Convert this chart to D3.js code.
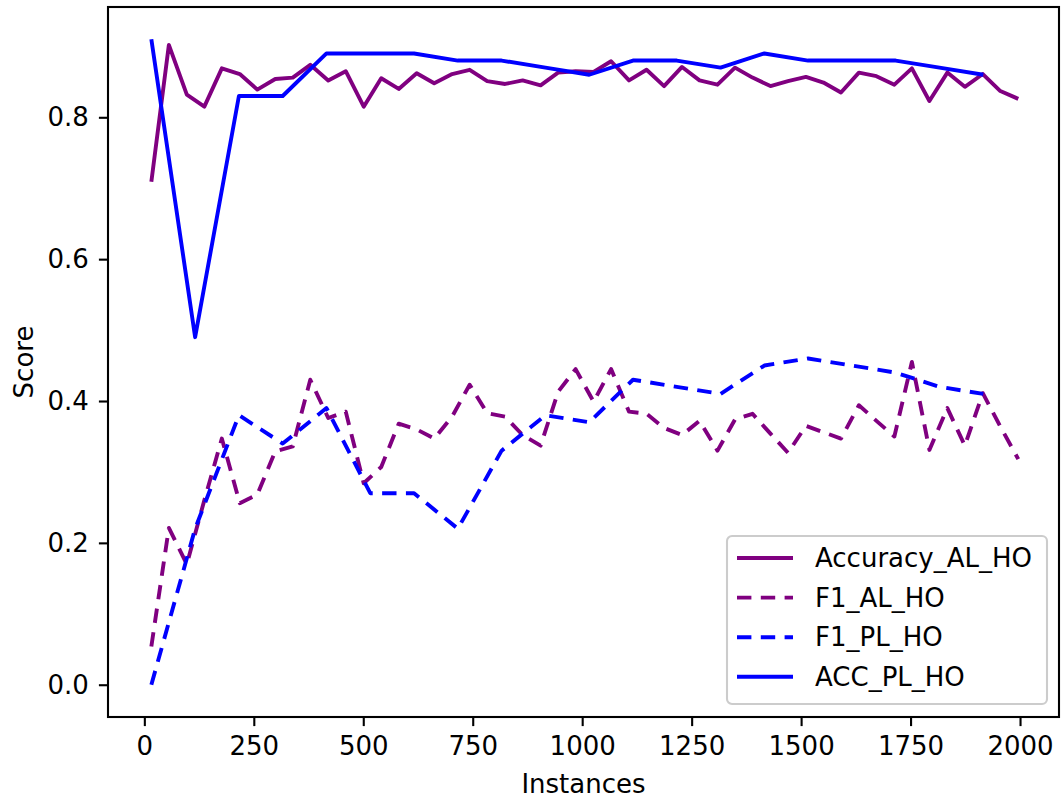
<!DOCTYPE html>
<html>
<head>
<meta charset="utf-8">
<script src="https://cdn.jsdelivr.net/npm/d3@7"></script>
<style>
  body { margin: 0; background: #fff; }
  text { font-family: 'DejaVu Sans', sans-serif; }
</style>
</head>
<body>
<div id="chart"></div>
<script>
// active learning runs (hold-out), one point every ~40 instances
const alInstances = [16, 56, 97, 137, 177, 218, 258, 299, 339, 379,
  420, 460, 501, 541, 581, 622, 662, 703, 743, 783,
  824, 864, 905, 945, 985, 1026, 1066, 1107, 1147, 1187,
  1228, 1268, 1309, 1349, 1389, 1430, 1470, 1511, 1551, 1591,
  1632, 1672, 1713, 1753, 1793, 1834, 1874, 1915, 1955, 1996]
const accuracyAL = [0.709, 0.902, 0.832, 0.815, 0.869, 0.861, 0.839, 0.854, 0.856, 0.874,
  0.852, 0.865, 0.815, 0.855, 0.840, 0.862, 0.848, 0.861, 0.867, 0.851,
  0.847, 0.852, 0.845, 0.863, 0.865, 0.864, 0.879, 0.852, 0.867, 0.844,
  0.871, 0.852, 0.846, 0.870, 0.856, 0.844, 0.851, 0.857, 0.849, 0.835,
  0.863, 0.858, 0.846, 0.869, 0.823, 0.863, 0.843, 0.861, 0.837, 0.826]
const f1AL = [0.054, 0.221, 0.170, 0.260, 0.347, 0.256, 0.268, 0.329, 0.336, 0.430,
  0.376, 0.385, 0.284, 0.307, 0.368, 0.360, 0.347, 0.378, 0.423, 0.383,
  0.378, 0.352, 0.337, 0.413, 0.445, 0.399, 0.445, 0.385, 0.382, 0.362,
  0.352, 0.372, 0.330, 0.374, 0.382, 0.354, 0.327, 0.365, 0.356, 0.347,
  0.394, 0.372, 0.350, 0.455, 0.331, 0.390, 0.337, 0.411, 0.364, 0.318]

// passive learning runs (hold-out), one point every 100 instances
const plInstances = [16, 116, 216, 316, 416, 516, 616, 716, 816, 916,
  1016, 1116, 1216, 1316, 1416, 1516, 1616, 1716, 1816, 1916]
const f1PL = [0.00, 0.22, 0.38, 0.34, 0.39, 0.27, 0.27, 0.22, 0.33, 0.38,
  0.37, 0.43, 0.42, 0.41, 0.45, 0.46, 0.45, 0.44, 0.42, 0.41]
const accPL = [0.91, 0.49, 0.83, 0.83, 0.89, 0.89, 0.89, 0.88, 0.88, 0.87,
  0.86, 0.88, 0.88, 0.87, 0.89, 0.88, 0.88, 0.88, 0.87, 0.86]

const xTicks = [0, 250, 500, 750, 1000, 1250, 1500, 1750, 2000]
const yTicks = [0.0, 0.2, 0.4, 0.6, 0.8]

const series = [
  { name: 'Accuracy_AL_HO', x: alInstances, y: accuracyAL, color: 'purple', dashed: false },
  { name: 'F1_AL_HO', x: alInstances, y: f1AL, color: 'purple', dashed: true },
  { name: 'F1_PL_HO', x: plInstances, y: f1PL, color: 'blue', dashed: true },
  { name: 'ACC_PL_HO', x: plInstances, y: accPL, color: 'blue', dashed: false }
]

const W = 1061
const H = 800
const margin = { top: 7, right: 2, bottom: 83, left: 108 }
const width = W - margin.left - margin.right
const height = H - margin.top - margin.bottom

// matplotlib-ish sizes at ~187 dpi
const fontSize = 26
const lineW = 3.9
const spineW = 2.1
const dash = '14.4,9.4'

const svg = d3.select('#chart').append('svg')
  .attr('width', W)
  .attr('height', H)

const g = svg.append('g')
  .attr('transform', `translate(${margin.left}, ${margin.top})`)

const xScale = d3.scaleLinear()
  .domain([-83, 2089])
  .range([0, width])

const yScale = d3.scaleLinear()
  .domain([-0.0455, 0.9555])
  .range([height, 0])

const xAxis = d3.axisBottom(xScale)
  .tickValues(xTicks)
  .tickFormat(d3.format('d'))
  .tickSize(9.1)
  .tickPadding(10)

const yAxis = d3.axisLeft(yScale)
  .tickValues(yTicks)
  .tickFormat(d3.format('.1f'))
  .tickSize(9.1)
  .tickPadding(10)

const gx = g.append('g')
  .attr('transform', `translate(0, ${height})`)
  .call(xAxis)

const gy = g.append('g')
  .call(yAxis)

for (const ax of [gx, gy]) {
  ax.select('.domain').remove()
  ax.selectAll('line').attr('stroke', '#000').attr('stroke-width', spineW)
  ax.selectAll('text')
    .attr('fill', '#000')
    .style('font-size', fontSize + 'px')
    .style('font-family', "'DejaVu Sans', sans-serif")
}

const line = s => d3.line()
  .x((d, i) => xScale(s.x[i]))
  .y(d => yScale(d))

g.selectAll('path.series')
  .data(series)
  .enter().append('path')
  .attr('class', 'series')
  .attr('d', s => line(s)(s.y))
  .attr('fill', 'none')
  .attr('stroke', s => s.color)
  .attr('stroke-width', lineW)
  .attr('stroke-linejoin', 'round')
  .attr('stroke-dasharray', s => s.dashed ? dash : null)

// frame
g.append('rect')
  .attr('width', width)
  .attr('height', height)
  .attr('fill', 'none')
  .attr('stroke', '#000')
  .attr('stroke-width', spineW)

// axis labels
svg.append('text')
  .attr('x', margin.left + width / 2)
  .attr('y', 793)
  .attr('text-anchor', 'middle')
  .style('font-size', fontSize + 'px')
  .text('Instances')

svg.append('text')
  .attr('transform', `translate(33, ${margin.top + height / 2}) rotate(-90)`)
  .attr('text-anchor', 'middle')
  .style('font-size', fontSize + 'px')
  .text('Score')

// legend
const legend = svg.append('g')
  .attr('transform', 'translate(727, 536)')

legend.append('rect')
  .attr('width', 320)
  .attr('height', 168)
  .attr('rx', 5)
  .attr('fill', '#fff')
  .attr('fill-opacity', 0.8)
  .attr('stroke', '#ccc')
  .attr('stroke-width', spineW)

const rows = legend.selectAll('g.row')
  .data(series)
  .enter().append('g')
  .attr('class', 'row')
  .attr('transform', (d, i) => `translate(0, ${22 + i * 39.6})`)

rows.append('line')
  .attr('x1', 10)
  .attr('x2', 66)
  .attr('stroke', d => d.color)
  .attr('stroke-width', lineW)
  .attr('stroke-dasharray', d => d.dashed ? dash : null)

rows.append('text')
  .attr('x', 88)
  .attr('dy', '0.35em')
  .style('font-size', fontSize + 'px')
  .text(d => d.name)
</script>
</body>
</html>
